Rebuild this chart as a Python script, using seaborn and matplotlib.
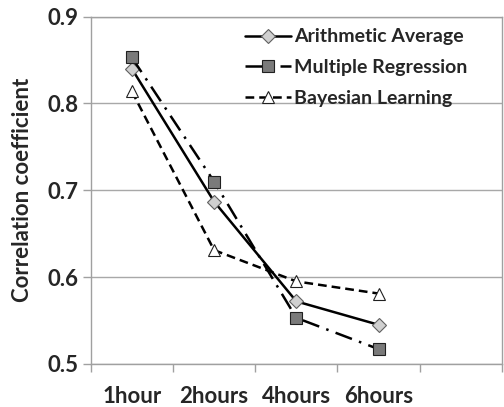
import matplotlib
matplotlib.use("Agg")
import matplotlib.pyplot as plt
import seaborn as sns
import pandas as pd
from matplotlib.ticker import FixedLocator, NullFormatter

categories = ["1hour", "2hours", "4hours", "6hours"]
arithmetic = [0.840, 0.687, 0.572, 0.545]
multiple = [0.853, 0.710, 0.553, 0.517]
bayesian = [0.814, 0.631, 0.595, 0.581]
yticks = [0.5, 0.6, 0.7, 0.8, 0.9]

sns.set_theme(style="white")
plt.rcParams['font.family'] = ['Lato', 'DejaVu Sans']

fig = plt.figure(figsize=(5.04, 4.07), dpi=100)
ax = fig.add_axes([0.18, 0.106, 0.816, 0.853])

x = list(range(len(categories)))
sns.lineplot(x=x, y=arithmetic, ax=ax, color="black", lw=1.8, marker="D",
             markersize=7, markerfacecolor="#d0d0d0", markeredgecolor="#606060",
             markeredgewidth=0.8, label="Arithmetic Average")
sns.lineplot(x=x, y=multiple, ax=ax, color="black", lw=1.8, marker="s",
             markersize=8, markerfacecolor="#7a7a7a", markeredgecolor="#202020",
             markeredgewidth=0.8, label="Multiple Regression", dashes=False)
ax.lines[-1].set_dashes([7, 3, 1, 3])
sns.lineplot(x=x, y=bayesian, ax=ax, color="black", lw=1.8, marker="^",
             markersize=8, markerfacecolor="white", markeredgecolor="#202020",
             markeredgewidth=0.8, label="Bayesian Learning")
ax.lines[-1].set_dashes([3.5, 2])

ax.set_xlim(-0.5, 4.5)
ax.set_ylim(0.5, 0.9)
ax.set_yticks(yticks)
ax.set_yticklabels([f"{v:.1f}" for v in yticks])
ax.xaxis.set_major_locator(FixedLocator([i - 0.5 for i in range(len(categories) + 2)]))
ax.xaxis.set_major_formatter(NullFormatter())
ax.xaxis.set_minor_locator(FixedLocator(x))
ax.set_xticklabels(categories, minor=True)
ax.tick_params(axis="x", which="major", direction="out", length=6, width=1, color="#a0a0a0", bottom=True)
ax.tick_params(axis="x", which="minor", length=0, pad=16, labelsize=16)
ax.tick_params(axis="y", direction="out", length=6, width=1, color="#a0a0a0", left=True, labelsize=16, pad=3)
for lab in ax.get_xticklabels(minor=True) + ax.get_yticklabels():
    lab.set_fontweight("bold")

ax.grid(axis="y", color="#a8a8a8", lw=1)
for s in ax.spines.values():
    s.set_color("#a0a0a0")
    s.set_linewidth(1)

ax.set_ylabel("Correlation coefficient", fontsize=16, fontweight="bold", labelpad=10)
ax.set_xlabel("")

leg = ax.legend(loc="upper right", frameon=False, fontsize=14, handlelength=2.4,
                handletextpad=0.15, borderaxespad=0.2, labelspacing=0.7,
                bbox_to_anchor=(0.945, 1.0))
for t in leg.get_texts():
    t.set_fontweight("bold")

fig.savefig("out.png", dpi=100)
